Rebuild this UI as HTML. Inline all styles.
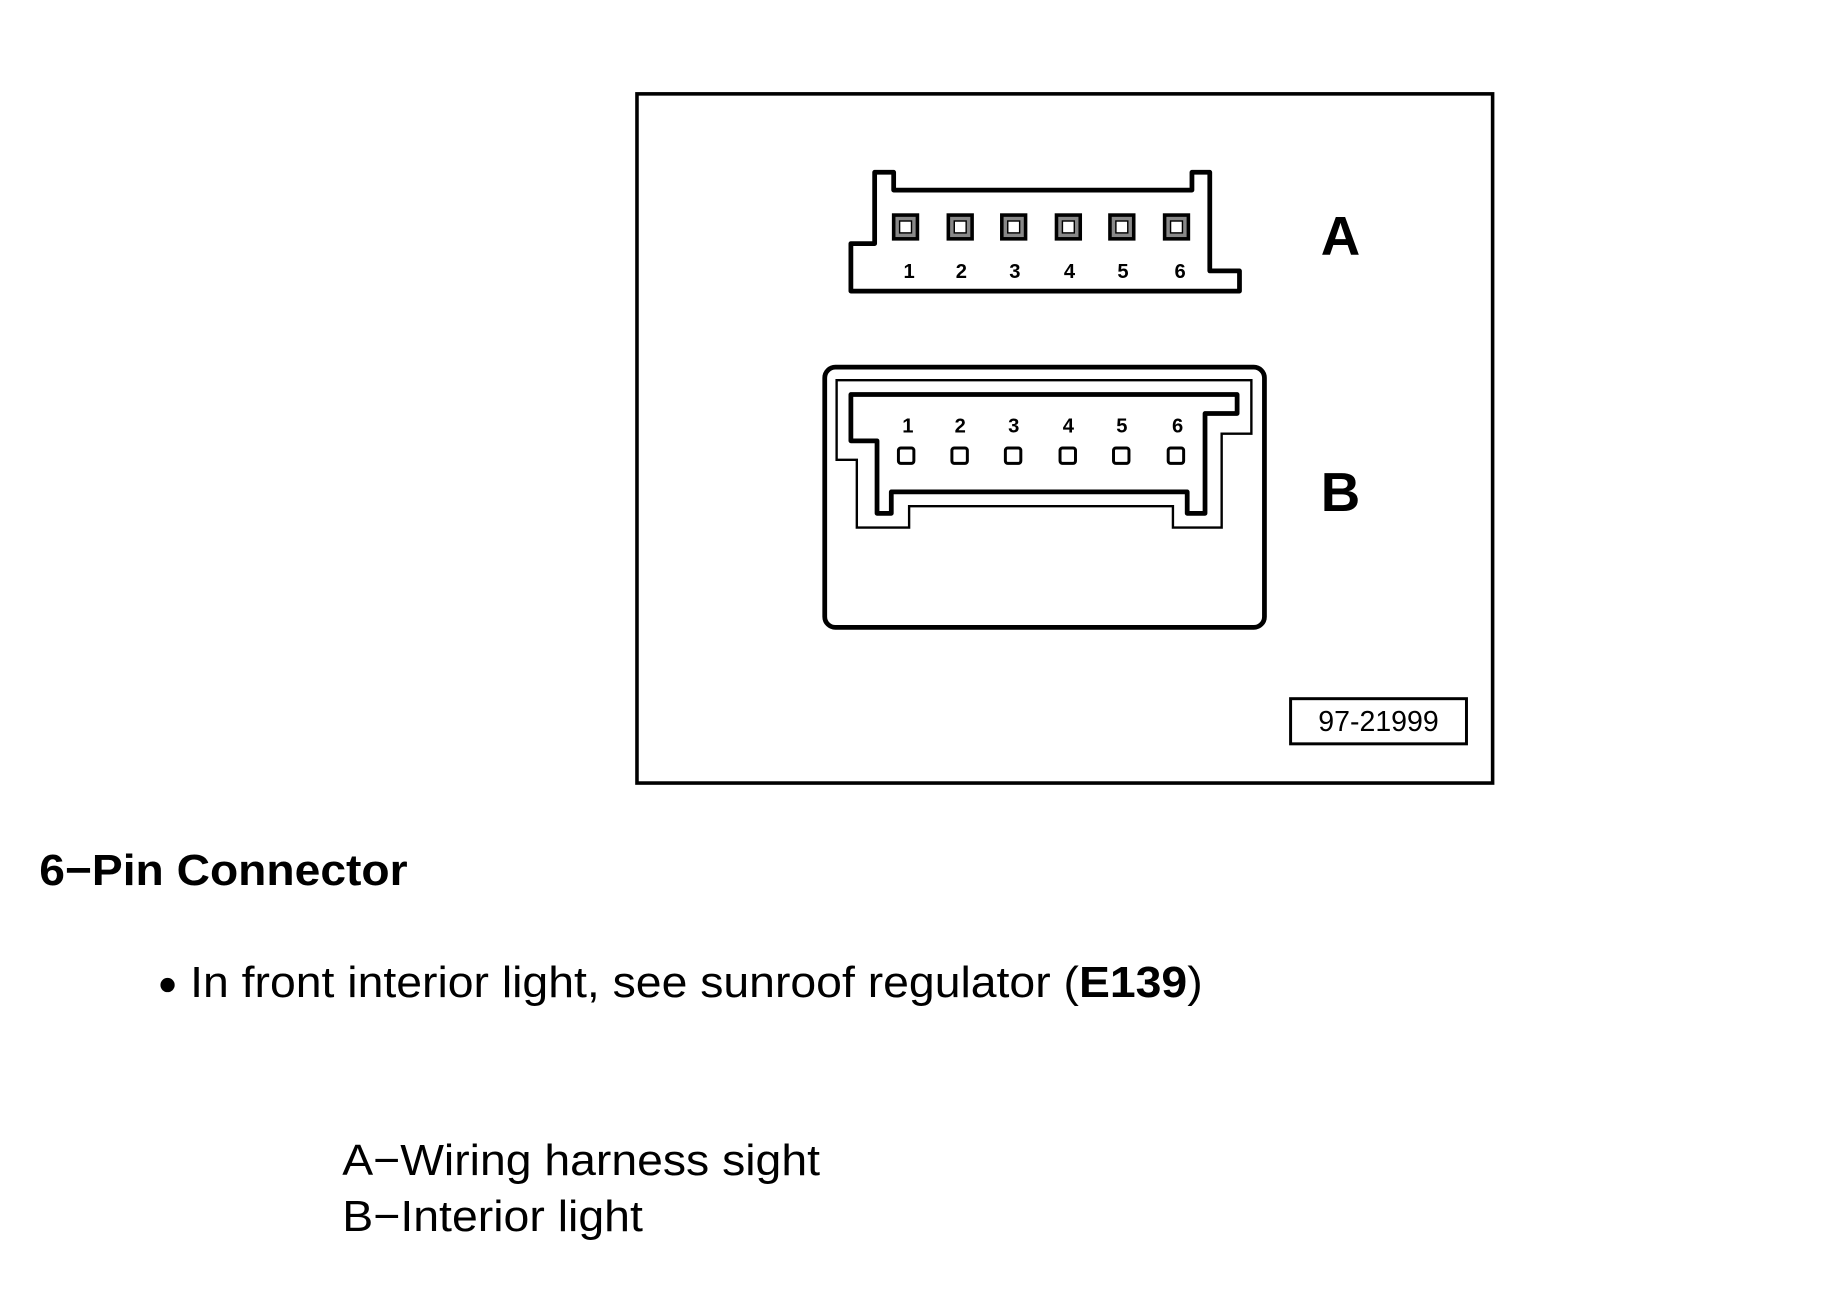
<!DOCTYPE html>
<html><head><meta charset="utf-8"><style>
html,body{margin:0;padding:0;background:#fff;}
svg{display:block;}
text{font-family:"Liberation Sans",sans-serif;fill:#000;}
</style></head><body>
<svg width="1842" height="1313" viewBox="0 0 1550 1105" preserveAspectRatio="none" xmlns="http://www.w3.org/2000/svg">
<rect width="1550" height="1105" fill="#fff"/>
<rect x="536" y="79" width="720" height="580" fill="none" stroke="#000" stroke-width="3"/>
<!-- Connector A -->
<path d="M716,245 L716,205 L736,205 L736,145 L752,145 L752,160 L1003,160 L1003,145 L1018,145 L1018,228 L1043,228 L1043,245 Z" fill="none" stroke="#000" stroke-width="4" stroke-linejoin="round"/>
<g stroke="#000" fill="#888">
<rect x="752" y="181" width="20" height="20" stroke-width="3"/>
<rect x="798" y="181" width="20" height="20" stroke-width="3"/>
<rect x="843" y="181" width="20" height="20" stroke-width="3"/>
<rect x="889" y="181" width="20" height="20" stroke-width="3"/>
<rect x="934" y="181" width="20" height="20" stroke-width="3"/>
<rect x="980" y="181" width="20" height="20" stroke-width="3"/>
</g>
<g fill="#fff" stroke="#000" stroke-width="1.2">
<rect x="757" y="186" width="10" height="10"/>
<rect x="803" y="186" width="10" height="10"/>
<rect x="848" y="186" width="10" height="10"/>
<rect x="894" y="186" width="10" height="10"/>
<rect x="939" y="186" width="10" height="10"/>
<rect x="985" y="186" width="10" height="10"/>
</g>
<g font-size="17" font-weight="bold" text-anchor="middle">
<text x="765" y="234">1</text><text x="809" y="234">2</text><text x="854" y="234">3</text><text x="900" y="234">4</text><text x="945" y="234">5</text><text x="993" y="234">6</text>
</g>
<text x="1128" y="214" font-size="46" font-weight="bold" text-anchor="middle">A</text>
<!-- Connector B -->
<rect x="694" y="309" width="370" height="219" rx="9" fill="none" stroke="#000" stroke-width="4"/>
<path d="M704,320 L1053,320 L1053,365 L1028,365 L1028,444 L987,444 L987,426 L765,426 L765,444 L721,444 L721,387 L704,387 Z" fill="none" stroke="#000" stroke-width="2"/>
<path d="M716,332 L1041,332 L1041,348 L1014,348 L1014,432 L999,432 L999,414 L750,414 L750,432 L738,432 L738,371 L716,371 Z" fill="none" stroke="#000" stroke-width="4" stroke-linejoin="round"/>
<g fill="#fff" stroke="#000" stroke-width="2.5">
<rect x="756" y="377" width="13" height="13" rx="2"/>
<rect x="801" y="377" width="13" height="13" rx="2"/>
<rect x="846" y="377" width="13" height="13" rx="2"/>
<rect x="892" y="377" width="13" height="13" rx="2"/>
<rect x="937" y="377" width="13" height="13" rx="2"/>
<rect x="983" y="377" width="13" height="13" rx="2"/>
</g>
<g font-size="17" font-weight="bold" text-anchor="middle">
<text x="764" y="364">1</text><text x="808" y="364">2</text><text x="853" y="364">3</text><text x="899" y="364">4</text><text x="944" y="364">5</text><text x="991" y="364">6</text>
</g>
<text x="1128" y="430" font-size="46" font-weight="bold" text-anchor="middle">B</text>
<!-- tag -->
<rect x="1086" y="588" width="148" height="38" fill="none" stroke="#000" stroke-width="2.5"/>
<text x="1160" y="615" font-size="24" text-anchor="middle" fill="#222">97-21999</text>
<!-- text -->
<text x="33" y="745" font-size="37" font-weight="bold" textLength="310" lengthAdjust="spacingAndGlyphs">6−Pin Connector</text>
<circle cx="141" cy="829" r="6" fill="#000"/>
<text x="160" y="839" font-size="37" textLength="852" lengthAdjust="spacingAndGlyphs">In front interior light, see sunroof regulator (<tspan font-weight="bold">E139</tspan>)</text>
<text x="288" y="989" font-size="37" textLength="402" lengthAdjust="spacingAndGlyphs">A−Wiring harness sight</text>
<text x="288" y="1036" font-size="37" textLength="253" lengthAdjust="spacingAndGlyphs">B−Interior light</text>
</svg>
</body></html>
